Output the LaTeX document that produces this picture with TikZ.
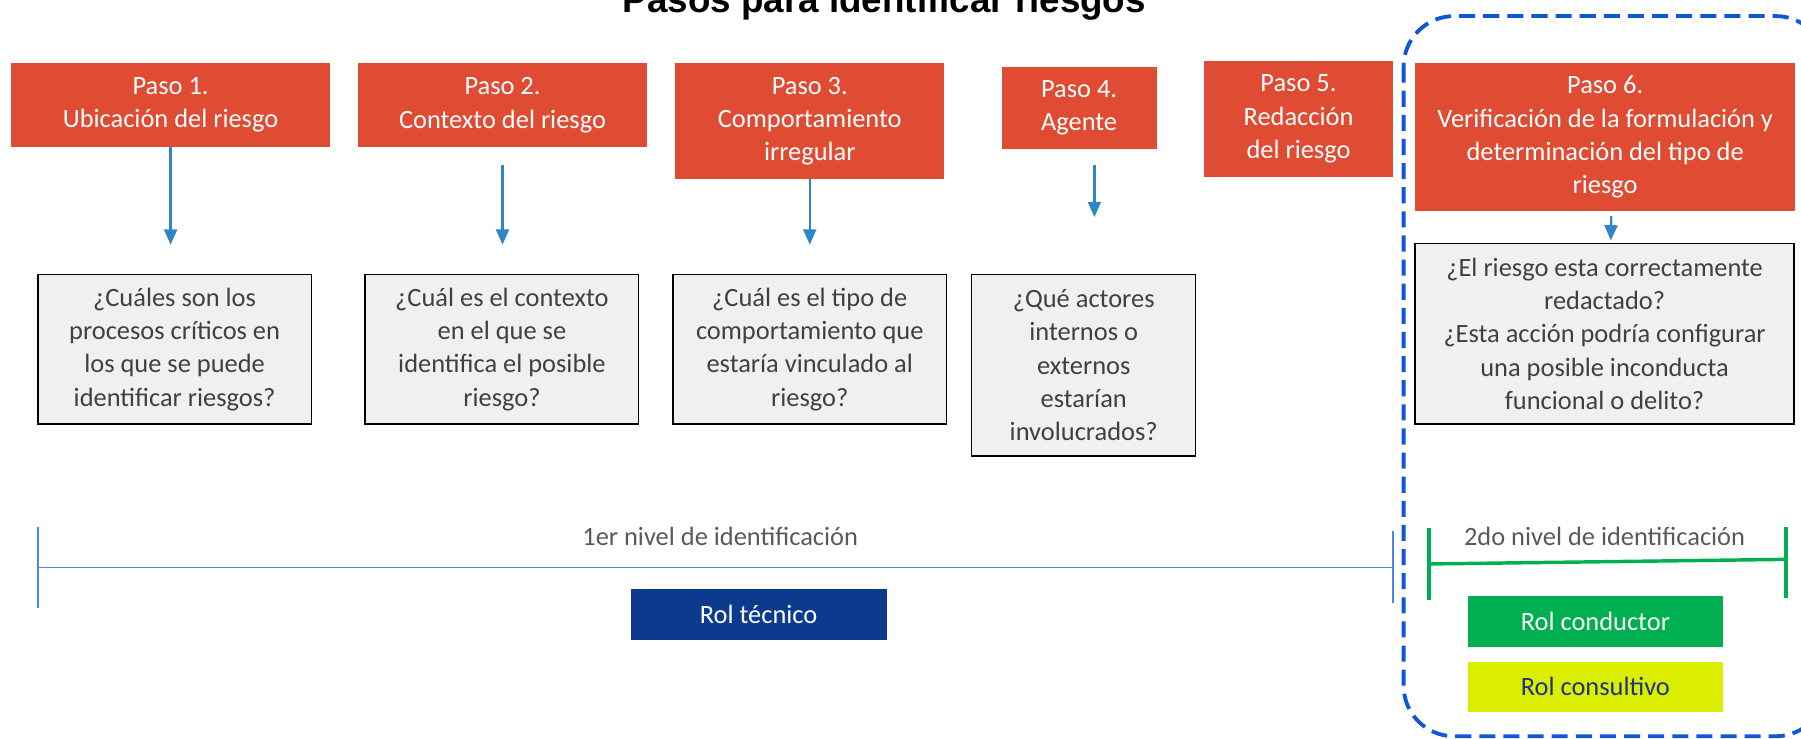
\documentclass[tikz,border=0pt]{standalone}
\usepackage{fontspec}
\setmainfont{Carlito}
\newfontfamily\titulofont{Liberation Sans}
\usetikzlibrary{arrows.meta}

\definecolor{rojopaso}{RGB}{224,75,51}
\definecolor{azulflecha}{RGB}{46,134,200}
\definecolor{grispregunta}{RGB}{240,240,240}
\definecolor{gristexto}{RGB}{64,64,64}
\definecolor{grisnivel}{RGB}{89,89,89}
\definecolor{azulnivel}{RGB}{74,134,232}
\definecolor{azultecnico}{RGB}{12,58,143}
\definecolor{verderol}{RGB}{0,176,80}
\definecolor{amarillorol}{RGB}{220,238,0}
\definecolor{azulconsultivo}{RGB}{30,50,130}
\definecolor{azulmarco}{RGB}{17,85,221}

\tikzset{
  caja/.style 2 args={minimum width=#1*0.75pt, minimum height=#2*0.75pt, inner sep=0pt, align=center,
    font=\fontsize{17.25}{21.75}\selectfont},
  paso/.style={fill=rojopaso, text=white},
  pregunta/.style={draw=black, line width=1pt, fill=grispregunta, text=gristexto},
  rol/.style={text=white},
  flecha/.style={azulflecha, line width=1.5pt, -{Triangle[length=10pt,width=8.5pt]}},
  nivel/.style={text=grisnivel, font=\fontsize{17.25}{21.75}\selectfont}
}

\begin{document}
\begin{tikzpicture}[x=0.75pt,y=0.75pt,yscale=-1,xscale=1]
\useasboundingbox (0,0) rectangle (1568,643);

% Title
\node (titulo) [anchor=base] at (770,11) {\titulofont\bfseries\fontsize{24}{28}\selectfont Pasos para identificar riesgos};

%Shape: Rectangle [paso 1..6]
\node (p1) at (148.5,91.5) [caja={277}{73}, paso] {Paso 1.\\Ubicación del riesgo};
\node (p2) at (437.5,91.5) [caja={251}{73}, paso] {Paso 2.\\Contexto del riesgo};
\node (p3) at (705,105.5) [caja={234}{101}, paso] {Paso 3.\\Comportamiento\\irregular};
\node (p4) at (939.5,94) [caja={135}{72}, paso] {Paso 4.\\Agente};
\node (p5) at (1130.5,103.5) [caja={165}{101}, paso] {Paso 5.\\Redacción\\del riesgo};
\node (p6) at (1397.5,119.5) [caja={331}{129}, paso] {Paso 6.\\Verificación de la formulación y\\determinación del tipo de\\riesgo};

%Shape: Rectangle [preguntas]
\node (q1) at (152,304) [caja={238}{130}, pregunta] {¿Cuáles son los\\procesos críticos en\\los que se puede\\identificar riesgos?};
\node (q2) at (437,304) [caja={238}{130}, pregunta] {¿Cuál es el contexto\\en el que se\\identifica el posible\\riesgo?};
\node (q3) at (705,304) [caja={238}{130}, pregunta] {¿Cuál es el tipo de\\comportamiento que\\estaría vinculado al\\riesgo?};
\node (q4) at (943.5,318) [caja={195}{158}, pregunta] {¿Qué actores\\internos o\\externos\\estarían\\involucrados?};
\node (q6) at (1397,290.5) [caja={330}{157}, pregunta] {¿El riesgo esta correctamente\\redactado?\\¿Esta acción podría configurar\\una posible inconducta\\funcional o delito?};

% Arrows
\coordinate (fin) at (0,213);
\coordinate (fin4) at (0,189);
\draw[flecha] (p1.south) -- (p1.south |- fin);
\draw[flecha] ([yshift=11.25pt]p2.south) -- (p2.south |- fin);
\draw[flecha] (p3.south) -- (p3.south |- fin);
\draw[flecha] ([xshift=10pt,yshift=9.75pt]p4.south) -- ([xshift=10pt]p4.south |- fin4);
\draw[flecha] ([xshift=4pt,yshift=3pt]p6.south) -- ([xshift=4pt,yshift=-1.5pt]q6.north);

% 1er nivel
\coordinate (n1a) at (33,494);
\coordinate (n1b) at (1213,494);
\draw[azulnivel, line width=1pt] (n1a) -- (n1b);
\draw[azulnivel, line width=1pt] ([yshift=-26.25pt]n1a) -- ([yshift=26.25pt]n1a);
\draw[azulnivel, line width=1pt] ([yshift=-24pt]n1b) -- ([yshift=23.25pt]n1b);
\node (nivel1) at (627,467) [nivel] {1er nivel de identificación};
\node (tecnico) at (660.5,535) [caja={223}{44}, rol, fill=azultecnico] {Rol técnico};

% 2do nivel
\coordinate (n2a) at (1244,491);
\coordinate (n2b) at (1555,487);
\draw[verderol, line width=2.25pt] (n2a) -- (n2b);
\draw[verderol, line width=2.25pt] ([yshift=-23.25pt]n2a) -- ([yshift=23.25pt]n2a);
\draw[verderol, line width=2.25pt] ([yshift=-21pt]n2b) -- ([yshift=25.5pt]n2b);
\node (nivel2) at (1397,467) [nivel] {2do nivel de identificación};
\node (conductor) at (1389,541) [caja={222}{44}, rol, fill=verderol] {Rol conductor};
\node (consultivo) at (1389,598) [caja={222}{44}, fill=amarillorol, text=azulconsultivo] {Rol consultivo};

% Dashed frame
\draw[azulmarco, line width=2.5pt, dash pattern=on 10.5pt off 5.25pt, rounded corners=33pt] (1222,14) rectangle (1590,641);

\end{tikzpicture}
\end{document}
